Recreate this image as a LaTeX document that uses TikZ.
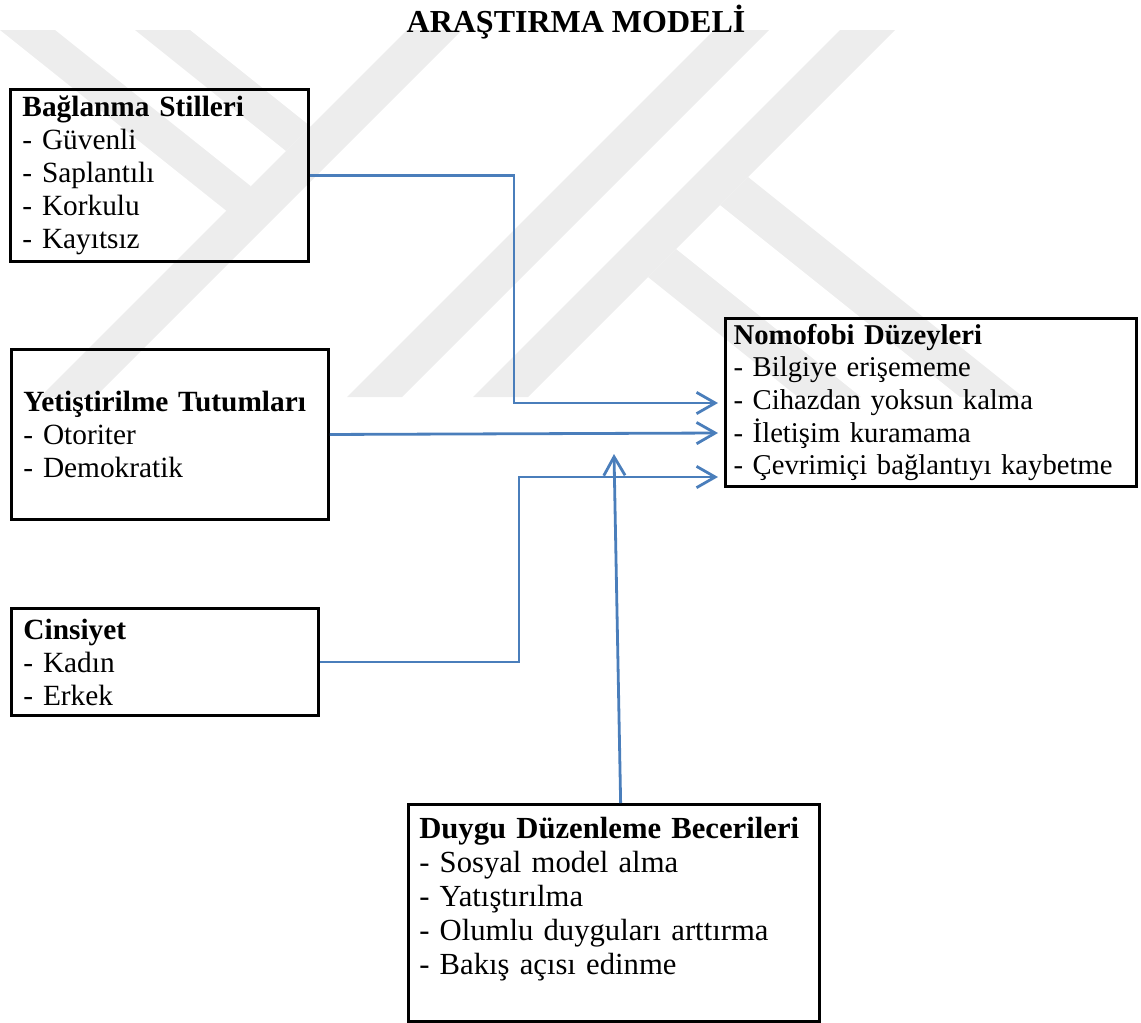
\documentclass[tikz,border=0pt]{standalone}
\usepackage{fontspec}
\setmainfont{Liberation Serif}
\usepackage{tikz}
\usetikzlibrary{arrows.meta, positioning}
\definecolor{linkblue}{HTML}{4A7EBB}
\definecolor{wmgray}{gray}{0.93}
\hyphenpenalty=10000
\exhyphenpenalty=10000

\tikzset{
	box/.style={draw, line width=2.2pt, anchor=north west, align=left,
		inner xsep=9pt, inner ysep=0pt, font=\fontsize{22}{24.75}\selectfont},
	link/.style={draw=linkblue, line width=2.1pt, -{Straight Barb[length=14pt,width=16pt]}},
}

\begin{document}
\begin{tikzpicture}[x=0.75pt, y=-0.75pt]

\useasboundingbox (0,0) rectangle (1141,1022);

% watermark in the background
\foreach \a in {40, 347, 473} {
	\fill[wmgray] (\a,397) -- (\a+55,397) -- (\a+422,30) -- (\a+367,30) -- cycle; % rising bands
}
\fill[wmgray] (0,30) -- (55,30) -- (250.6,186) -- (256.7,235) -- cycle;
\fill[wmgray] (135,30) -- (190,30) -- (310.6,126.5) -- (286,151) -- cycle;
\fill[wmgray] (648,277) -- (676,249) -- (861,397) -- (798,397) -- cycle; % legs of the K
\fill[wmgray] (720,205) -- (748,177) -- (1023,397) -- (960,397) -- cycle;

\node[anchor=base, font=\bfseries\fontsize{24}{28}\selectfont] (title) at (576,32) {ARAŞTIRMA MODELİ};

\node[box, minimum width=223.5pt, minimum height=129pt, text width=205.5pt] (bagl) at (9,88)
	{\textbf{Bağlanma Stilleri}\\- Güvenli\\- Saplantılı\\- Korkulu\\- Kayıtsız};
\node[box, minimum width=237.75pt, minimum height=127.5pt, text width=219.75pt] (yetis) at (10,348)
	{\textbf{Yetiştirilme Tutumları}\\- Otoriter\\- Demokratik};
\node[box, minimum width=230.25pt, minimum height=80.25pt, text width=212.25pt] (cins) at (10,607)
	{\textbf{Cinsiyet}\\- Kadın\\- Erkek};
\node[box, minimum width=308.25pt, minimum height=126pt, text width=296pt, inner xsep=6pt,
	font=\fontsize{21.5}{24.4}\selectfont] (nomo) at (724,317)
	{\textbf{Nomofobi Düzeyleri}\\- Bilgiye erişememe\\- Cihazdan yoksun kalma\\- İletişim kuramama\\- Çevrimiçi bağlantıyı kaybetme};
\node[box, minimum width=308.25pt, minimum height=162.75pt, text width=292pt, inner xsep=8pt,
	font=\fontsize{23}{25.5}\selectfont] (duygu) at (407,803)
	{\textbf{Duygu Düzenleme Becerileri}\\- Sosyal model alma\\- Yatıştırılma\\- Olumlu duyguları arttırma\\- Bakış açısı edinme\\\mbox{}};

\coordinate (k1) at (514,403);
\coordinate (t1) at (718,403);
\coordinate (t2) at (718,433);
\coordinate (k3) at (519,477);
\coordinate (t3) at (718,477);
\coordinate (t4) at (614,454);

\draw[link] (bagl.east) -| (k1) -- (t1);
\draw[link] (yetis.east) -- (t2);
\draw[link] (cins.east) -| (k3) -- (t3);
\draw[link] ([xshift=5pt]duygu.north) -- (t4);

\end{tikzpicture}
\end{document}
